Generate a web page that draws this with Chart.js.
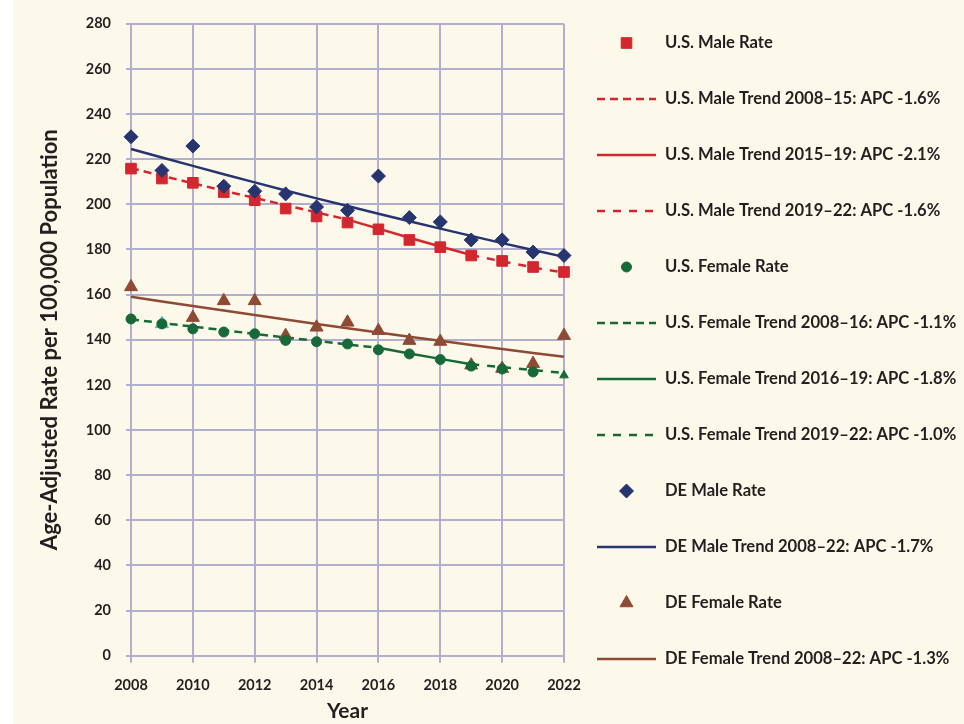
<!DOCTYPE html>
<html>
<head>
<meta charset="utf-8">
<title>Age-Adjusted Rate, U.S. and DE, 2008-2022</title>
<style>
  html, body { margin: 0; padding: 0; background: #fff; overflow: hidden; }
  .panel { position: absolute; left: 13px; top: 0; width: 951px; height: 724px; background: #fdf9ea; }
  #chart { position: absolute; left: 0; top: 0; }
</style>
</head>
<body>
<div class="panel"></div>
<canvas id="chart" width="964" height="724"></canvas>

<script src="https://cdn.jsdelivr.net/npm/chart.js@4.4.1/dist/chart.umd.min.js"></script>
<script>
// ---- data ----
var years = [2008, 2009, 2010, 2011, 2012, 2013, 2014, 2015, 2016, 2017, 2018, 2019, 2020, 2021, 2022];

var usMaleRate   = [215.8, 211.4, 209.5, 205.4, 201.8, 198.1, 194.6, 191.9, 188.9, 184.2, 181.0, 177.3, 174.9, 172.2, 170.0];
var usFemaleRate = [149.2, 147.0, 144.8, 143.4, 142.6, 139.7, 139.1, 138.1, 135.5, 133.7, 131.2, 128.3, 127.0, 125.7, 124.2];
var deMaleRate   = [229.9, 215.0, 225.8, 208.0, 205.8, 204.6, 198.8, 197.3, 212.5, 194.1, 192.2, 184.2, 184.2, 178.8, 177.3];
var deFemaleRate = [163.4, 147.0, 149.8, 157.2, 157.2, 141.8, 145.5, 147.7, 144.0, 139.6, 139.2, 128.7, 127.2, 129.4, 141.8];

var years0815 = [2008, 2009, 2010, 2011, 2012, 2013, 2014, 2015];
var years1519 = [2015, 2016, 2017, 2018, 2019];
var years0816 = [2008, 2009, 2010, 2011, 2012, 2013, 2014, 2015, 2016];
var years1619 = [2016, 2017, 2018, 2019];
var years1922 = [2019, 2020, 2021, 2022];

var usMaleTrend0815   = [216.0, 212.6, 209.3, 206.0, 202.8, 199.6, 196.4, 193.2];
var usMaleTrend1519   = [193.2, 189.2, 185.2, 181.3, 177.5];
var usMaleTrend1922   = [177.5, 174.7, 172.0, 169.7];
var usFemaleTrend0816 = [149.0, 147.4, 145.8, 144.2, 142.6, 141.0, 139.5, 137.9, 136.4];
var usFemaleTrend1619 = [136.4, 133.9, 131.5, 129.1];
var usFemaleTrend1922 = [129.1, 127.8, 126.5, 125.2];
var deMaleTrend   = [224.5, 220.7, 217.0, 213.3, 209.7, 206.1, 202.6, 199.2, 195.8, 192.5, 189.2, 186.0, 182.8, 179.7, 176.7];
var deFemaleTrend = [159.0, 156.9, 154.9, 152.9, 150.9, 148.9, 147.0, 145.1, 143.2, 141.3, 139.5, 137.7, 135.9, 134.1, 132.4];

var yTicks = { min: 0, max: 280, step: 20 };
var xTicks = { min: 2008, max: 2022, step: 2 };

// ---- styles ----
var RED = '#d3262e', NAVY = '#263470', GREEN = '#18693a', BROWN = '#8e4a35', TEAL = '#3fbcb3';
var GRID = '#b2aecd', INK = '#231f20';

function pts(xs, ys) {
  return xs.map(function (x, i) { return { x: x, y: ys[i] }; });
}

function rateSet(label, ys, style, radius, color, order) {
  return {
    label: label, data: pts(years, ys), showLine: false,
    pointStyle: style, pointRadius: radius, pointHoverRadius: radius,
    pointBackgroundColor: color, pointBorderColor: color, pointBorderWidth: 1,
    order: order
  };
}

function trendSet(label, xs, ys, color, dash) {
  return {
    label: label, data: pts(xs, ys), borderColor: color, borderWidth: 2.5,
    borderDash: dash, pointRadius: 0, tension: 0, order: 5
  };
}

var femaleStyles = years.map(function (y) { return y === 2022 ? 'triangle' : 'circle'; });
var deFemaleColors = years.map(function (y) { return y === 2009 ? TEAL : BROWN; });

var datasets = [
  rateSet('U.S. Male Rate', usMaleRate, 'rect', 7.5, RED, 2),
  trendSet('U.S. Male Trend 2008\u201315: APC -1.6%', years0815, usMaleTrend0815, RED, [8, 5]),
  trendSet('U.S. Male Trend 2015\u201319: APC -2.1%', years1519, usMaleTrend1519, RED, []),
  trendSet('U.S. Male Trend 2019\u201322: APC -1.6%', years1922, usMaleTrend1922, RED, [8, 8]),
  rateSet('U.S. Female Rate', usFemaleRate, femaleStyles, 5, GREEN, 1),
  trendSet('U.S. Female Trend 2008\u201316: APC -1.1%', years0816, usFemaleTrend0816, GREEN, [8, 5]),
  trendSet('U.S. Female Trend 2016\u201319: APC -1.8%', years1619, usFemaleTrend1619, GREEN, []),
  trendSet('U.S. Female Trend 2019\u201322: APC -1.0%', years1922, usFemaleTrend1922, GREEN, [8, 8]),
  rateSet('DE Male Rate', deMaleRate, 'rectRot', 7, NAVY, 0),
  trendSet('DE Male Trend 2008\u201322: APC -1.7%', years, deMaleTrend, NAVY, []),
  rateSet('DE Female Rate', deFemaleRate, 'triangle', 7.5, deFemaleColors, 3),
  trendSet('DE Female Trend 2008\u201322: APC -1.3%', years, deFemaleTrend, BROWN, [])
];

// marker shapes for the side legend, same geometry as Chart.js points
function drawMarker(ctx, style, x, y, r, color) {
  ctx.fillStyle = color;
  ctx.strokeStyle = color;
  ctx.lineWidth = 1;
  ctx.setLineDash([]);
  ctx.beginPath();
  if (style === 'rect') {
    var s = r * Math.SQRT1_2;
    ctx.rect(x - s, y - s, 2 * s, 2 * s);
  } else if (style === 'rectRot') {
    ctx.moveTo(x - r, y); ctx.lineTo(x, y - r); ctx.lineTo(x + r, y); ctx.lineTo(x, y + r);
    ctx.closePath();
  } else if (style === 'triangle') {
    var a = -Math.PI / 2;
    ctx.moveTo(x + Math.cos(a) * r, y + Math.sin(a) * r);
    for (var k = 1; k < 3; k++) {
      a += 2 * Math.PI / 3;
      ctx.lineTo(x + Math.cos(a) * r, y + Math.sin(a) * r);
    }
    ctx.closePath();
  } else {
    ctx.arc(x, y, r, 0, Math.PI * 2);
  }
  ctx.fill();
  ctx.stroke();
}

var sideLegend = {
  id: 'sideLegend',
  afterDraw: function (chart) {
    var ctx = chart.ctx;
    var top = 43, step = 56, lineX0 = 597, lineX1 = 656, textX = 665;
    chart.data.datasets.forEach(function (ds, i) {
      var y = top + i * step;
      ctx.save();
      if (ds.showLine === false) {
        var style = Array.isArray(ds.pointStyle) ? ds.pointStyle[0] : ds.pointStyle;
        var color = Array.isArray(ds.pointBackgroundColor) ? ds.pointBackgroundColor[0] : ds.pointBackgroundColor;
        drawMarker(ctx, style, (lineX0 + lineX1) / 2, y, ds.pointRadius, color);
      } else {
        ctx.strokeStyle = ds.borderColor;
        ctx.lineWidth = ds.borderWidth;
        ctx.setLineDash(ds.borderDash || []);
        ctx.beginPath();
        ctx.moveTo(lineX0, y);
        ctx.lineTo(lineX1, y);
        ctx.stroke();
      }
      ctx.fillStyle = INK;
      ctx.font = 'bold 16.6px Lato, sans-serif';
      ctx.textAlign = 'left';
      ctx.textBaseline = 'middle';
      ctx.fillText(ds.label, textX, y);
      ctx.restore();
    });
  }
};

Chart.defaults.font.family = 'Lato, sans-serif';
Chart.defaults.color = INK;

new Chart(document.getElementById('chart'), {
  type: 'line',
  data: { datasets: datasets },
  options: {
    responsive: false,
    animation: false,
    events: [],
    devicePixelRatio: 1,
    layout: { padding: { top: 18, right: 400, bottom: 0, left: 0 } },
    datasets: { line: { clip: false } },
    plugins: { legend: { display: false }, tooltip: { enabled: false } },
    scales: {
      x: {
        type: 'linear',
        min: xTicks.min,
        max: xTicks.max,
        afterFit: function (scale) { scale.height = 68.3; },
        ticks: {
          stepSize: xTicks.step, padding: 14, maxRotation: 0, autoSkip: false,
          font: { size: 14.5, weight: 'bold' }, color: INK,
          callback: function (v) { return String(v); }
        },
        grid: { color: GRID, lineWidth: 2, tickLength: 7 },
        border: { color: GRID, width: 2 },
        title: { display: true, text: 'Year', color: INK, font: { size: 21, weight: 'bold' }, padding: { top: 0, bottom: 0 } }
      },
      y: {
        min: yTicks.min,
        max: yTicks.max,
        afterFit: function (scale) { scale.width = 131; },
        ticks: { stepSize: yTicks.step, padding: 15, font: { size: 14.5, weight: 'bold' }, color: INK },
        grid: { color: GRID, lineWidth: 2, tickLength: 5 },
        border: { color: GRID, width: 2 },
        title: {
          display: true, text: 'Age-Adjusted Rate per 100,000 Population', color: INK,
          font: { size: 22, weight: 'bold' }, padding: { top: 37, bottom: 0 }
        }
      }
    }
  },
  plugins: [sideLegend]
});
</script>
</body>
</html>
